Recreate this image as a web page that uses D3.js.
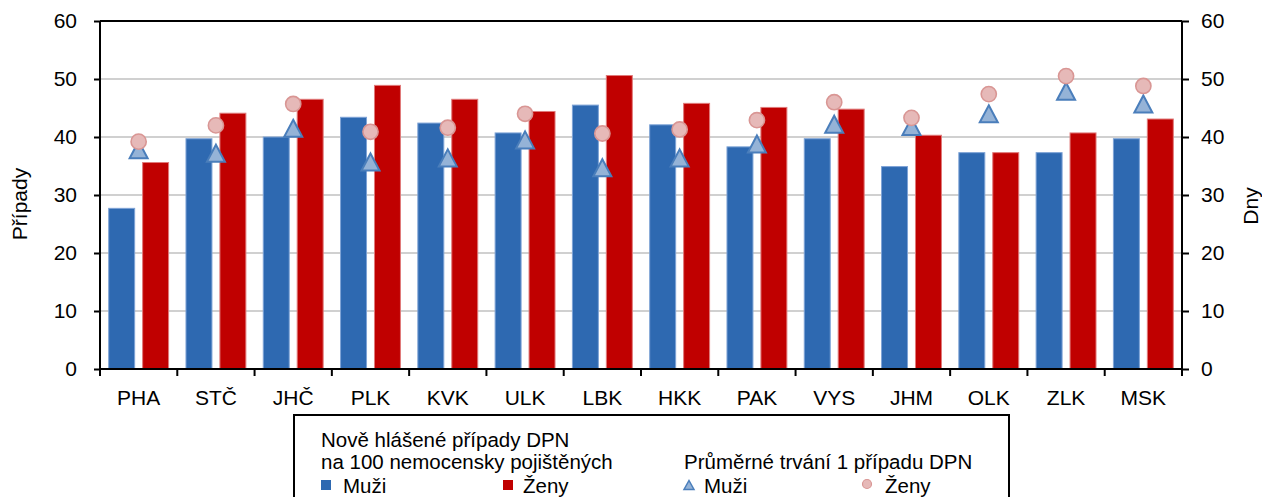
<html>
  <style type="text/css">
    body { margin: 0; background: #fff; }
    text { font-family: "Liberation Sans", Arial, sans-serif; fill: #000; }
  </style>
  <body>
    <script src="https://cdnjs.cloudflare.com/ajax/libs/d3/7.8.5/d3.min.js"></script>
    <script type="text/javascript">
      const regions = ["PHA", "STČ", "JHČ", "PLK", "KVK", "ULK", "LBK", "HKK", "PAK", "VYS", "JHM", "OLK", "ZLK", "MSK"];
      // new cases per 100 insured (left axis)
      const casesMen = [27.7, 39.7, 40.0, 43.4, 42.4, 40.7, 45.5, 42.1, 38.3, 39.7, 34.9, 37.3, 37.3, 39.7];
      const casesWomen = [35.6, 44.1, 46.5, 48.9, 46.5, 44.4, 50.6, 45.8, 45.1, 44.8, 40.3, 37.3, 40.7, 43.1];
      // average duration of one case in days (right axis)
      const daysMen = [37.8, 37.2, 41.5, 35.7, 36.4, 39.5, 34.7, 36.4, 38.8, 42.2, 41.8, 44.0, 47.9, 45.7];
      const daysWomen = [39.2, 42.0, 45.7, 40.9, 41.6, 44.0, 40.6, 41.3, 42.9, 46.0, 43.3, 47.4, 50.5, 48.8];
      const yTicks = [0, 10, 20, 30, 40, 50, 60];

      const chart = { width: 1262, height: 497, left: 100, right: 1182, top: 21, bottom: 369 };
      const fs = 21;

      let svg = d3.select("body").append("svg")
        .attr("width", chart.width)
        .attr("height", chart.height);

      const x = d3.scaleBand().domain(regions).range([chart.left, chart.right]);
      const yL = d3.scaleLinear().domain([0, 60]).range([chart.bottom, chart.top]);
      const yR = d3.scaleLinear().domain([0, 60]).range([chart.bottom, chart.top]);
      const bw = x.bandwidth() * 0.336;
      const gap = x.bandwidth() * 0.103;
      const cx = (d) => x(d) + x.bandwidth() / 2;

      // gridlines
      svg.append("g")
        .selectAll("line")
        .data(yTicks.filter((d) => d > 0 && d < 60))
        .enter().append("line")
        .attr("x1", chart.left).attr("x2", chart.right)
        .attr("y1", (d) => yL(d)).attr("y2", (d) => yL(d))
        .attr("stroke", "#c0c0c0").attr("stroke-width", 1.6);

      // bars
      let bars = svg.append("g");
      bars.selectAll(".m")
        .data(regions)
        .enter().append("rect")
        .attr("x", (d) => cx(d) - gap / 2 - bw)
        .attr("y", (d, i) => yL(casesMen[i]))
        .attr("width", bw)
        .attr("height", (d, i) => yL(0) - yL(casesMen[i]))
        .attr("fill", "#2e69b1")
        .attr("stroke", "#7ea3d6").attr("stroke-width", 1);
      bars.selectAll(".w")
        .data(regions)
        .enter().append("rect")
        .attr("x", (d) => cx(d) + gap / 2)
        .attr("y", (d, i) => yL(casesWomen[i]))
        .attr("width", bw)
        .attr("height", (d, i) => yL(0) - yL(casesWomen[i]))
        .attr("fill", "#c00000")
        .attr("stroke", "#e07a7a").attr("stroke-width", 1);

      // markers
      function tri(w, h) {
        return `M0,${-h / 2}L${w / 2},${h / 2}L${-w / 2},${h / 2}Z`;
      }
      svg.append("g")
        .selectAll("path")
        .data(regions)
        .enter().append("path")
        .attr("d", tri(18, 17))
        .attr("transform", (d, i) => `translate(${cx(d)},${yR(daysMen[i])})`)
        .attr("fill", "#95b3d7")
        .attr("stroke", "#4a7ebb").attr("stroke-width", 2)
        .attr("stroke-linejoin", "miter");
      svg.append("g")
        .selectAll("circle")
        .data(regions)
        .enter().append("circle")
        .attr("cx", cx)
        .attr("cy", (d, i) => yR(daysWomen[i]))
        .attr("r", 7.6)
        .attr("fill", "#e6b9b8")
        .attr("stroke", "#d99694").attr("stroke-width", 1.6);

      // frame
      svg.append("line")
        .attr("x1", chart.left).attr("x2", chart.right)
        .attr("y1", chart.top).attr("y2", chart.top)
        .attr("stroke", "#000").attr("stroke-width", 2);

      // left axis
      let axL = svg.append("g")
        .attr("transform", `translate(${chart.left},0)`)
        .call(d3.axisLeft(yL).tickValues(yTicks).tickSize(6).tickPadding(17));
      // right axis
      let axR = svg.append("g")
        .attr("transform", `translate(${chart.right},0)`)
        .call(d3.axisRight(yR).tickValues(yTicks).tickSize(7).tickPadding(12));
      // bottom axis
      let axB = svg.append("g")
        .attr("transform", `translate(0,${chart.bottom})`)
        .call(d3.axisBottom(x).tickSize(0).tickPadding(21));
      axB.selectAll(".tick text").attr("dy", "0.71em");

      svg.append("g")
        .selectAll("line")
        .data(regions.concat(["end"]))
        .enter().append("line")
        .attr("x1", (d, i) => i < regions.length ? x(d) : chart.right)
        .attr("x2", (d, i) => i < regions.length ? x(d) : chart.right)
        .attr("y1", chart.bottom).attr("y2", chart.bottom + 7)
        .attr("stroke", "#000").attr("stroke-width", 2);

      [axL, axR, axB].forEach((a) => {
        a.select(".domain").attr("stroke", "#000").attr("stroke-width", 2);
        a.selectAll(".tick line").attr("stroke", "#000").attr("stroke-width", 2);
        a.selectAll(".tick text").style("font-size", fs + "px")
          .style("font-family", '"Liberation Sans", Arial, sans-serif').attr("fill", "#000");
      });
      axB.select(".domain").attr("d", `M${chart.left},0H${chart.right}`);
      axL.select(".domain").attr("d", `M0,${chart.top}V${chart.bottom}`);
      axR.select(".domain").attr("d", `M0,${chart.top}V${chart.bottom}`);

      // axis titles
      svg.append("text")
        .attr("transform", "translate(27,204) rotate(-90)")
        .attr("text-anchor", "middle")
        .style("font-size", fs + "px")
        .text("Případy");
      svg.append("text")
        .attr("transform", "translate(1258,206) rotate(-90)")
        .attr("text-anchor", "middle")
        .style("font-size", fs + "px")
        .text("Dny");

      // legend
      const lfs = 20.5;
      let lg = svg.append("g");
      lg.append("rect")
        .attr("x", 294).attr("y", 415)
        .attr("width", 715).attr("height", 120)
        .attr("fill", "#fff").attr("stroke", "#000").attr("stroke-width", 2);
      const lgText = [
        { t: "Nově hlášené případy DPN", x: 321, y: 446.5 },
        { t: "na 100 nemocensky pojištěných", x: 321, y: 469 },
        { t: "Průměrné trvání 1 případu DPN", x: 684, y: 469 },
        { t: "Muži", x: 343, y: 492.5 },
        { t: "Ženy", x: 523, y: 492.5 },
        { t: "Muži", x: 704, y: 492.5 },
        { t: "Ženy", x: 885, y: 492.5 },
      ];
      lg.selectAll("text")
        .data(lgText)
        .enter().append("text")
        .attr("x", (d) => d.x).attr("y", (d) => d.y)
        .style("font-size", lfs + "px")
        .text((d) => d.t);
      lg.append("rect").attr("x", 321).attr("y", 480).attr("width", 10).attr("height", 10).attr("fill", "#2e69b1");
      lg.append("rect").attr("x", 503).attr("y", 480).attr("width", 10).attr("height", 10).attr("fill", "#c00000");
      lg.append("path").attr("d", tri(10, 9)).attr("transform", "translate(689,485)")
        .attr("fill", "#95b3d7").attr("stroke", "#4a7ebb").attr("stroke-width", 1.5);
      lg.append("circle").attr("cx", 867).attr("cy", 484).attr("r", 4.5)
        .attr("fill", "#e6b9b8").attr("stroke", "#d99694").attr("stroke-width", 1.2);
    </script>
  </body>
</html>
